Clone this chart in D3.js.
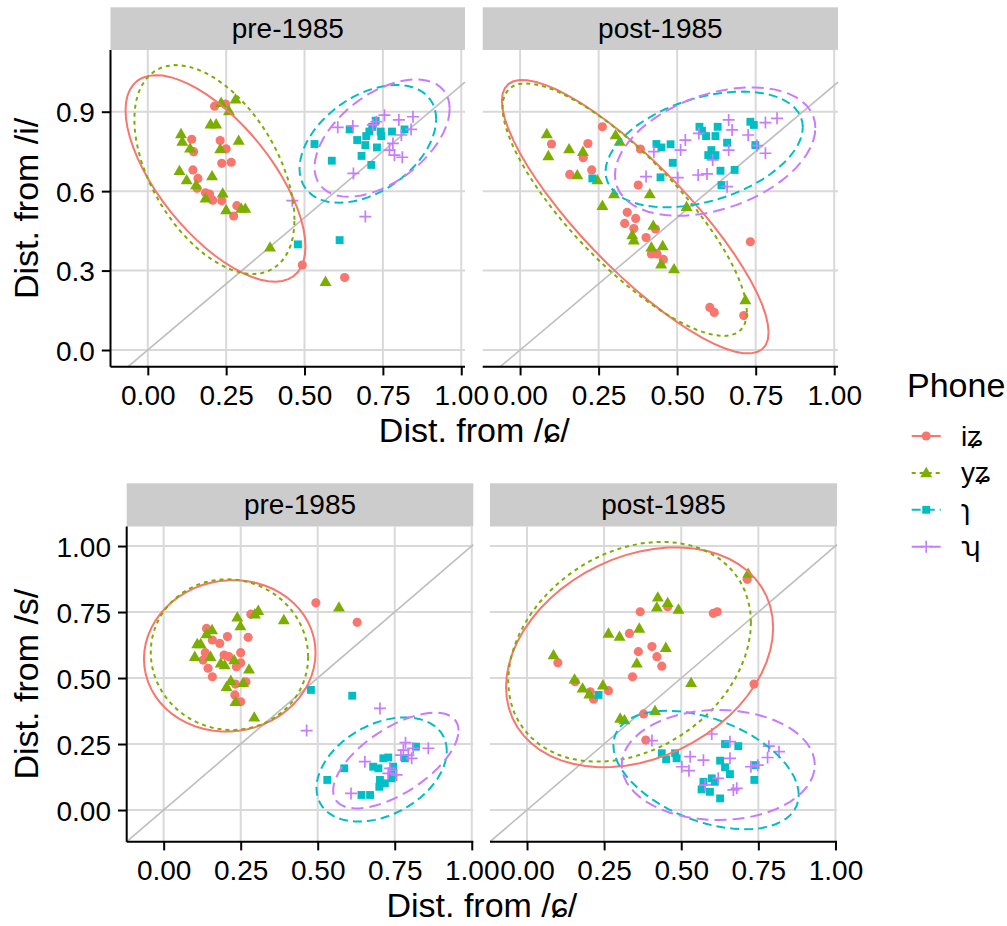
<!DOCTYPE html>
<html>
<head>
<meta charset="utf-8">
<script src="https://d3js.org/d3.v7.min.js"></script>
<style>
  body { margin: 0; background: #fff; }
  text { font-family: "Liberation Sans", Arial, "DejaVu Sans", sans-serif; fill: #000; }
</style>
</head>
<body>
<svg id="chart" width="1007" height="926"></svg>
<script>
// phones, colours, facet names, ticks
const phones = ["iʑ", "yʑ", "ɿ", "ʮ"];
const colors = ["#F8766D", "#7CAE00", "#00BFC4", "#C77CFF"];
const periods = ["pre-1985", "post-1985"];
const xTicks = [0, 0.25, 0.5, 0.75, 1];
const yTicksI = [0, 0.3, 0.6, 0.9];
const yTicksS = [0, 0.25, 0.5, 0.75, 1];

// [dist from ɕ, dist from i] -- pre-1985
const iPre_iz = [[0.213,0.921],[0.248,0.929],[0.140,0.796],[0.231,0.791],[0.250,0.760],[0.146,0.749],[0.236,0.705],[0.266,0.709],[0.144,0.680],[0.160,0.648],[0.157,0.611],[0.184,0.594],[0.197,0.589],[0.207,0.566],[0.236,0.564],[0.284,0.545],[0.274,0.506],[0.493,0.321],[0.628,0.274]];
const iPre_yz = [[0.234,0.934],[0.280,0.947],[0.259,0.903],[0.200,0.853],[0.218,0.853],[0.106,0.816],[0.110,0.787],[0.135,0.762],[0.290,0.791],[0.231,0.759],[0.101,0.677],[0.124,0.642],[0.154,0.623],[0.205,0.657],[0.184,0.573],[0.239,0.592],[0.250,0.529],[0.298,0.534],[0.311,0.534],[0.390,0.388],[0.567,0.258]];
const iPre_r = [[0.532,0.778],[0.587,0.715],[0.644,0.833],[0.668,0.793],[0.694,0.774],[0.697,0.808],[0.707,0.825],[0.727,0.866],[0.716,0.843],[0.743,0.825],[0.745,0.808],[0.731,0.765],[0.682,0.733],[0.713,0.699],[0.779,0.825],[0.819,0.833],[0.479,0.399],[0.612,0.415]];
const iPre_h = [[0.461,0.564],[0.694,0.504],[0.656,0.667],[0.606,0.841],[0.654,0.846],[0.718,0.850],[0.729,0.862],[0.755,0.887],[0.801,0.869],[0.846,0.881],[0.840,0.833],[0.809,0.812],[0.782,0.780],[0.771,0.755],[0.787,0.736],[0.812,0.728]];
// post-1985
const iPost_iz = [[0.262,0.843],[0.100,0.778],[0.216,0.780],[0.201,0.726],[0.228,0.680],[0.158,0.663],[0.383,0.759],[0.376,0.623],[0.341,0.520],[0.368,0.497],[0.333,0.478],[0.362,0.459],[0.431,0.457],[0.401,0.425],[0.418,0.363],[0.436,0.363],[0.456,0.342],[0.733,0.409],[0.604,0.161],[0.618,0.142],[0.712,0.130]];
const iPost_yz = [[0.085,0.816],[0.090,0.733],[0.156,0.759],[0.200,0.749],[0.182,0.661],[0.246,0.642],[0.304,0.812],[0.317,0.787],[0.299,0.589],[0.262,0.545],[0.413,0.589],[0.424,0.470],[0.357,0.434],[0.362,0.415],[0.418,0.388],[0.454,0.393],[0.449,0.324],[0.490,0.306],[0.530,0.541],[0.717,0.189]];
const iPost_r = [[0.230,0.648],[0.434,0.778],[0.450,0.765],[0.479,0.777],[0.486,0.707],[0.447,0.652],[0.571,0.843],[0.579,0.828],[0.592,0.808],[0.622,0.808],[0.629,0.843],[0.659,0.783],[0.609,0.755],[0.599,0.736],[0.622,0.736],[0.638,0.677],[0.683,0.680],[0.641,0.623],[0.733,0.862],[0.744,0.850],[0.749,0.774]];
const iPost_h = [[0.401,0.655],[0.502,0.651],[0.511,0.755],[0.526,0.793],[0.426,0.749],[0.567,0.661],[0.595,0.665],[0.569,0.818],[0.613,0.718],[0.664,0.869],[0.675,0.831],[0.664,0.755],[0.659,0.617],[0.726,0.812],[0.754,0.772],[0.781,0.743],[0.781,0.859],[0.818,0.875]];

// [dist from ɕ, dist from s] -- pre-1985
const sPre_iz = [[0.494,0.785],[0.628,0.711],[0.283,0.742],[0.139,0.688],[0.158,0.644],[0.182,0.631],[0.207,0.657],[0.274,0.654],[0.135,0.596],[0.128,0.568],[0.144,0.537],[0.158,0.505],[0.196,0.587],[0.212,0.581],[0.250,0.596],[0.236,0.543],[0.250,0.558],[0.233,0.477],[0.267,0.486],[0.231,0.436],[0.250,0.410]];
const sPre_yz = [[0.569,0.768],[0.307,0.755],[0.296,0.742],[0.239,0.730],[0.249,0.697],[0.390,0.720],[0.157,0.682],[0.139,0.667],[0.109,0.629],[0.120,0.629],[0.101,0.581],[0.152,0.581],[0.185,0.556],[0.198,0.549],[0.229,0.568],[0.277,0.533],[0.218,0.490],[0.258,0.482],[0.204,0.467],[0.233,0.410],[0.294,0.351]];
const sPre_r = [[0.478,0.455],[0.612,0.433],[0.819,0.240],[0.783,0.196],[0.713,0.196],[0.729,0.199],[0.680,0.164],[0.697,0.158],[0.745,0.164],[0.740,0.133],[0.586,0.158],[0.531,0.114],[0.702,0.114],[0.718,0.101],[0.700,0.088],[0.642,0.057],[0.670,0.057],[0.740,0.120]];
const sPre_h = [[0.702,0.385],[0.464,0.301],[0.785,0.255],[0.810,0.234],[0.859,0.234],[0.770,0.208],[0.794,0.208],[0.805,0.196],[0.653,0.183],[0.729,0.139],[0.756,0.133],[0.608,0.063],[0.735,0.158],[0.778,0.227]];
// post-1985
const sPost_iz = [[0.714,0.874],[0.367,0.751],[0.456,0.770],[0.604,0.745],[0.617,0.751],[0.332,0.669],[0.405,0.619],[0.361,0.600],[0.421,0.581],[0.437,0.545],[0.100,0.558],[0.156,0.486],[0.342,0.505],[0.264,0.452],[0.205,0.448],[0.216,0.420],[0.736,0.477],[0.378,0.364],[0.385,0.265]];
const sPost_yz = [[0.717,0.896],[0.424,0.806],[0.456,0.785],[0.421,0.768],[0.491,0.760],[0.364,0.688],[0.264,0.669],[0.300,0.657],[0.450,0.615],[0.356,0.556],[0.086,0.587],[0.154,0.495],[0.180,0.461],[0.202,0.439],[0.246,0.473],[0.532,0.482],[0.415,0.376],[0.302,0.347],[0.316,0.341]];
const sPost_r = [[0.232,0.436],[0.437,0.215],[0.451,0.192],[0.480,0.215],[0.485,0.196],[0.642,0.250],[0.685,0.242],[0.626,0.187],[0.642,0.162],[0.658,0.136],[0.609,0.107],[0.599,0.120],[0.572,0.107],[0.566,0.078],[0.593,0.069],[0.626,0.044],[0.741,0.170],[0.737,0.114]];
const sPost_h = [[0.405,0.263],[0.599,0.288],[0.658,0.259],[0.784,0.242],[0.817,0.221],[0.780,0.199],[0.726,0.164],[0.748,0.170],[0.529,0.202],[0.572,0.189],[0.502,0.164],[0.525,0.149],[0.658,0.196],[0.620,0.120],[0.577,0.095],[0.669,0.076],[0.680,0.082]];

// 95% ellipses, one per phone:
// [centre x, centre y, half x-extent, half y-extent, correlation]
const ellIPre  = [[0.216,0.648,0.287,0.390,-0.66],[0.2125,0.6815,0.2555,0.3945,-0.48],[0.702,0.7785,0.218,0.2225,0.42],[0.7475,0.8005,0.2155,0.2215,0.50]];
const ellIPost = [[0.3665,0.5035,0.4245,0.5165,-0.847],[0.333,0.530,0.389,0.477,-0.81],[0.586,0.7575,0.314,0.2185,0.385],[0.621,0.7495,0.319,0.2425,0.367]];
const ellSPre  = [[0.2145,0.584,0.2785,0.287,0.04],[0.2135,0.5885,0.2555,0.2855,-0.03],[0.7075,0.1535,0.2115,0.1975,0.357],[0.7535,0.1875,0.2035,0.1815,0.627]];
const ellSPost = [[0.365,0.5785,0.433,0.4165,0.27],[0.3325,0.5995,0.3935,0.4165,0.266],[0.5805,0.1515,0.3005,0.2245,-0.42],[0.62,0.1705,0.313,0.2085,0.0]];

// layout of the two rows (two facet panels each)
const rows = [
  { yTitle: "Dist. from /i/", yTicks: yTicksI, yFmt: d3.format(".1f"),
    xDom: [-0.119, 1.012], yDom: [-0.063, 1.133],
    stripTop: 7.3, top: 50, bottom: 366.7,
    panels: [[110.5, 465], [482.7, 838]],
    data: [[iPre_iz, iPre_yz, iPre_r, iPre_h], [iPost_iz, iPost_yz, iPost_r, iPost_h]],
    ell: [ellIPre, ellIPost] },
  { yTitle: "Dist. from /s/", yTicks: yTicksS, yFmt: d3.format(".2f"),
    xDom: [-0.12, 1.005], yDom: [-0.12, 1.074],
    stripTop: 483.3, top: 526.5, bottom: 841.7,
    panels: [[126.7, 473.3], [490, 837]],
    data: [[sPre_iz, sPre_yz, sPre_r, sPre_h], [sPost_iz, sPost_yz, sPost_r, sPost_h]],
    ell: [ellSPre, ellSPost] }
];

const dashes = [null, "4,4", "9,5", "12,6"];
const gridCol = "#d9d9d9";
const svg = d3.select("#chart");

// outline of an ellipse given by centre, half extents and correlation
function ellipsePts(e) {
  const [cx, cy, hx, hy, r] = e;
  const s = Math.sqrt(1 - r*r);
  return d3.range(61).map(k => {
    const t = k * 2 * Math.PI / 60, u = Math.cos(t), v = Math.sin(t);
    return [cx + hx*u, cy + hy*(r*u + s*v)];
  });
}

function drawShape(g, k, cx, cy, col) {
  if (k === 3) {
    g.append("path").attr("d", `M${cx-6},${cy}H${cx+6}M${cx},${cy-6}V${cy+6}`)
      .attr("stroke", col).attr("stroke-width", 1.7).attr("fill", "none");
  } else {
    const sym = [d3.symbolCircle, d3.symbolTriangle, d3.symbolSquare][k];
    const size = [66, 62, 62][k];
    g.append("path").attr("d", d3.symbol(sym, size)())
      .attr("transform", `translate(${cx},${cy + (k === 1 ? 0.8 : 0)})`).attr("fill", col);
  }
}

rows.forEach(row => {
  row.panels.forEach((pr, pi) => {
    const x = d3.scaleLinear().domain(row.xDom).range(pr);
    const y = d3.scaleLinear().domain(row.yDom).range([row.bottom, row.top]);
    const g = svg.append("g");

    // strip
    g.append("rect").attr("x", pr[0]).attr("y", row.stripTop)
      .attr("width", pr[1] - pr[0]).attr("height", row.top - row.stripTop).attr("fill", "#cccccc");
    g.append("text").attr("x", (pr[0] + pr[1]) / 2).attr("y", (row.stripTop + row.top) / 2 + 9)
      .attr("text-anchor", "middle").style("font-size", "28px").text(periods[pi]);

    // grid
    g.selectAll(".gx").data(xTicks).join("line")
      .attr("x1", d => x(d)).attr("x2", d => x(d)).attr("y1", row.top).attr("y2", row.bottom)
      .attr("stroke", gridCol).attr("stroke-width", 2);
    g.selectAll(".gy").data(row.yTicks).join("line")
      .attr("y1", d => y(d)).attr("y2", d => y(d)).attr("x1", pr[0]).attr("x2", pr[1])
      .attr("stroke", gridCol).attr("stroke-width", 2);

    // y = x reference line
    const lo = Math.max(row.xDom[0], row.yDom[0]), hi = Math.min(row.xDom[1], row.yDom[1]);
    g.append("line").attr("x1", x(lo)).attr("y1", y(lo)).attr("x2", x(hi)).attr("y2", y(hi))
      .attr("stroke", "#bebebe").attr("stroke-width", 1.6);

    // points
    row.data[pi].forEach((pts, k) => {
      pts.forEach(p => drawShape(g, k, x(p[0]), y(p[1]), colors[k]));
    });

    // ellipses
    const line = d3.line().x(d => x(d[0])).y(d => y(d[1]));
    row.ell[pi].forEach((e, k) => {
      g.append("path").attr("d", line(ellipsePts(e))).attr("fill", "none")
        .attr("stroke", colors[k]).attr("stroke-width", 2)
        .attr("stroke-dasharray", dashes[k]);
    });

    // x axis
    const xa = g.append("g").attr("transform", `translate(0,${row.bottom})`)
      .call(d3.axisBottom(x).tickValues(xTicks).tickFormat(d3.format(".2f")).tickSize(8.7).tickPadding(8));
    xa.select(".domain").attr("d", `M${pr[0]},0H${pr[1]}`).attr("stroke", "#000").attr("stroke-width", 2);
    xa.selectAll(".tick line").attr("stroke", "#000").attr("stroke-width", 2);
    xa.selectAll(".tick text").style("font-size", "28px").attr("fill", "#000")
      .attr("dy", null).attr("y", 38.3);
    xa.attr("font-family", null);

    // y axis on the left panel only
    if (pi === 0) {
      const ya = g.append("g").attr("transform", `translate(${pr[0]},0)`)
        .call(d3.axisLeft(y).tickValues(row.yTicks).tickFormat(row.yFmt).tickSize(8.7).tickPadding(7));
      ya.select(".domain").attr("d", `M0,${row.top}V${row.bottom}`).attr("stroke", "#000").attr("stroke-width", 2);
      ya.selectAll(".tick line").attr("stroke", "#000").attr("stroke-width", 2);
      ya.selectAll(".tick text").style("font-size", "28px").attr("fill", "#000").attr("dy", "0.36em");
      ya.attr("font-family", null);
    }
  });

  // axis titles
  const cy = (row.top + row.bottom) / 2;
  svg.append("text").attr("transform", `translate(38,${cy}) rotate(-90)`)
    .attr("text-anchor", "middle").style("font-size", "34px").text(row.yTitle);
  svg.append("text").attr("x", (row.panels[0][0] + row.panels[1][1]) / 2).attr("y", row.bottom + 75.3)
    .attr("text-anchor", "middle").style("font-size", "34px").text("Dist. from /ɕ/");
});

// legend
const leg = svg.append("g");
leg.append("text").attr("x", 907).attr("y", 397).style("font-size", "34px").text("Phone");
const keyY = d3.scaleLinear().domain([0, 3]).range([436, 546.7]);
phones.forEach((p, k) => {
  const ky = keyY(k);
  leg.append("line").attr("x1", 911.7).attr("x2", 940.7).attr("y1", ky).attr("y2", ky)
    .attr("stroke", colors[k]).attr("stroke-width", 2).attr("stroke-dasharray", dashes[k]);
  drawShape(leg, k, 926.2, ky, colors[k]);
  leg.append("text").attr("x", 961).attr("y", ky + 9.5).style("font-size", "28px").text(p);
});
</script>
</body>
</html>
